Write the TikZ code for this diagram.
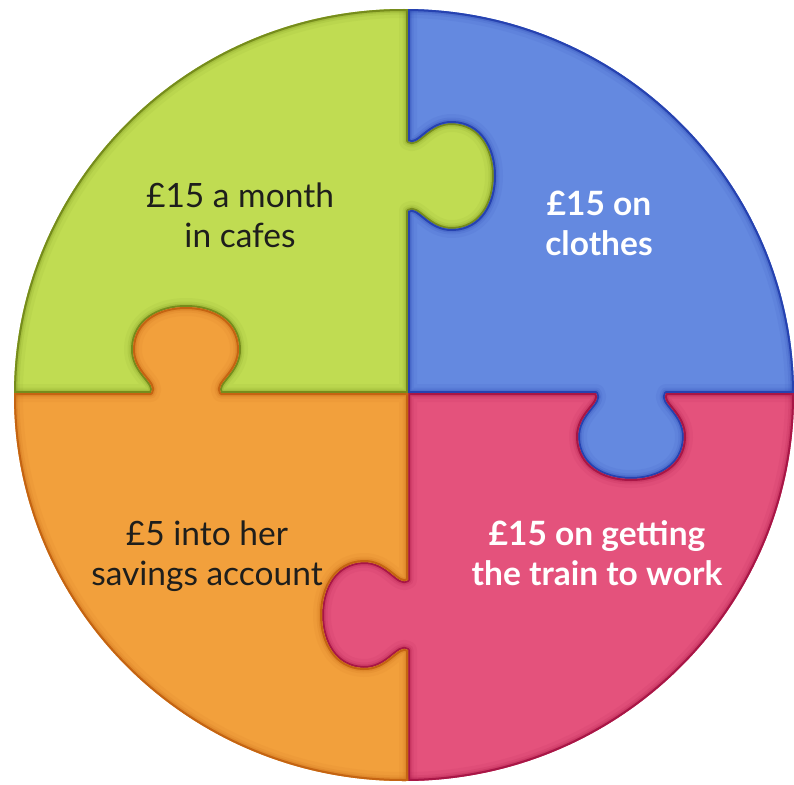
\documentclass[tikz,border=0pt]{standalone}
\usepackage{fontspec}
\setmainfont{Lato}

\definecolor{limefill}{RGB}{192,220,82}
\definecolor{limeedge}{RGB}{118,140,28}
\definecolor{bluefill}{RGB}{100,137,224}
\definecolor{blueedge}{RGB}{38,66,176}
\definecolor{pinkfill}{RGB}{228,82,124}
\definecolor{pinkedge}{RGB}{168,22,70}
\definecolor{orangefill}{RGB}{242,160,60}
\definecolor{orangeedge}{RGB}{196,100,18}
\definecolor{textdark}{RGB}{30,30,28}

% outline of the whole puzzle disc
\newcommand\disc{(404,395) ellipse [x radius=390pt, y radius=386pt]}

% top-left piece: tab to the right, socket from below
\newcommand\limepath{(-20,-20) -- (408,-20) -- (408,141)
  .. controls (418,148) and (428,122) .. (453,123)
  .. controls (480,124) and (494,148) .. (494,176)
  .. controls (494,204) and (480,228) .. (453,229)
  .. controls (428,230) and (418,204) .. (408,211)
  -- (408,393) -- (221,393)
  .. controls (214,383) and (240,373) .. (239,348)
  .. controls (238,321) and (214,307) .. (186,307)
  .. controls (158,307) and (134,321) .. (133,348)
  .. controls (132,373) and (158,383) .. (151,393)
  -- (-20,393) -- cycle}

% top-right piece: tab downwards, socket from the left
\newcommand\bluepath{(408,-20) -- (820,-20) -- (820,393) -- (666,393)
  .. controls (659,403) and (685,413) .. (684,438)
  .. controls (683,465) and (659,479) .. (631,479)
  .. controls (603,479) and (579,465) .. (578,438)
  .. controls (577,413) and (603,403) .. (596,393)
  -- (408,393) -- (408,211)
  .. controls (418,204) and (428,230) .. (453,229)
  .. controls (480,228) and (494,204) .. (494,176)
  .. controls (494,148) and (480,124) .. (453,123)
  .. controls (428,122) and (418,148) .. (408,141)
  -- cycle}

% bottom-right piece: tab to the left, socket from above
\newcommand\pinkpath{(408,393) -- (596,393)
  .. controls (603,403) and (577,413) .. (578,438)
  .. controls (579,465) and (603,479) .. (631,479)
  .. controls (659,479) and (683,465) .. (684,438)
  .. controls (685,413) and (659,403) .. (666,393)
  -- (820,393) -- (820,804) -- (408,804) -- (408,650)
  .. controls (398,643) and (388,669) .. (363,668)
  .. controls (336,667) and (322,643) .. (322,615)
  .. controls (322,587) and (336,563) .. (363,562)
  .. controls (388,561) and (398,587) .. (408,580)
  -- cycle}

% bottom-left piece: tab upwards, socket from the right
\newcommand\orangepath{(-20,393) -- (151,393)
  .. controls (158,383) and (132,373) .. (133,348)
  .. controls (134,321) and (158,307) .. (186,307)
  .. controls (214,307) and (238,321) .. (239,348)
  .. controls (240,373) and (214,383) .. (221,393)
  -- (408,393) -- (408,580)
  .. controls (398,587) and (388,561) .. (363,562)
  .. controls (336,563) and (322,587) .. (322,615)
  .. controls (322,643) and (336,667) .. (363,668)
  .. controls (388,669) and (398,643) .. (408,650)
  -- (408,804) -- (-20,804) -- cycle}

% one piece: flat fill with a soft darker bevel along its inner rim
\newcommand\puzzlepiece[3]{%
  \begin{scope}
    \clip \disc;
    \clip #1;
    \fill[#2] (-10,-10) rectangle (804,794);
    \foreach \w/\o in {18/0.07, 11/0.12, 7/0.22, 4/1} {
      \draw[#3, line width=\w pt, opacity=\o, line join=round] #1;
      \draw[#3, line width=\w pt, opacity=\o] \disc;
    }
  \end{scope}}

\tikzset{
  darklabel/.style={font=\fontsize{33.5}{40}\selectfont, text=textdark, align=center},
  lightlabel/.style={font=\fontsize{33.5}{40}\selectfont\bfseries, text=white, align=center}
}

\begin{document}
\begin{tikzpicture}[x=1pt, y=-1pt]
  \useasboundingbox (0,0) rectangle (794,784);
  \fill[white] (0,0) rectangle (794,784);

  \puzzlepiece{\limepath}{limefill}{limeedge}
  \puzzlepiece{\bluepath}{bluefill}{blueedge}
  \puzzlepiece{\pinkpath}{pinkfill}{pinkedge}
  \puzzlepiece{\orangepath}{orangefill}{orangeedge}

  \node[darklabel]  (cafes)   at (240,215) {£15 a month\\in cafes};
  \node[lightlabel] (clothes) at (599,223) {£15 on\\clothes};
  \node[darklabel]  (savings) at (207,556) {£5 into her\\savings account};
  \node[lightlabel] (train)   at (597,553) {£15 on getting\\the train to work};
\end{tikzpicture}
\end{document}
